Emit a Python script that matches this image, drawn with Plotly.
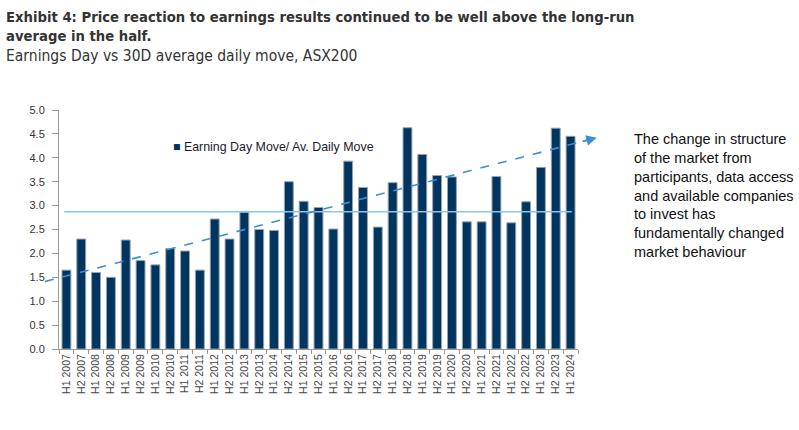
import plotly.graph_objects as go

categories = [f"{h} {y}" for y in range(2007, 2024) for h in ("H1", "H2")] + ["H1 2024"]
values = [1.65, 2.30, 1.60, 1.50, 2.28, 1.85, 1.76, 2.10, 2.05, 1.65,
          2.72, 2.30, 2.86, 2.50, 2.48, 3.50, 3.09, 2.96, 2.51, 3.93,
          3.38, 2.55, 3.48, 4.63, 4.07, 3.63, 3.60, 2.66, 2.66, 3.61,
          2.64, 3.08, 3.80, 4.62, 4.45]
long_run_avg = 2.87
trend_start, trend_end = 1.41, 4.42
series_name = "Earning Day Move/ Av. Daily Move"
yticks = [0.0, 0.5, 1.0, 1.5, 2.0, 2.5, 3.0, 3.5, 4.0, 4.5, 5.0]
bar_color = "#003560"

fig = go.Figure()
fig.add_trace(go.Bar(
    x=categories, y=values, name=series_name,
    marker=dict(color=bar_color, line=dict(color="#9aa3ad", width=1)),
    showlegend=False,
))

fig.update_layout(
    width=799, height=430,
    margin=dict(l=59, r=221, t=110, b=81),
    paper_bgcolor="white", plot_bgcolor="white",
    bargap=0.4,
    font=dict(family="Liberation Sans, Arial", color="#333333"),
    xaxis=dict(type="category", tickangle=-90, tickfont=dict(size=10.5, color="#444"),
               showline=True, linecolor="#999", linewidth=1,
               ticks="outside", tickson="boundaries", ticklen=4, tickcolor="#999",
               showgrid=False, range=[-0.5, len(categories) - 0.5]),
    yaxis=dict(range=[0, 5], tickvals=yticks, ticktext=[f"{v:.1f}" for v in yticks],
               tickfont=dict(size=11, color="#333"),
               showline=True, linecolor="#999", linewidth=1,
               ticks="outside", ticklen=6, tickcolor="#999", showgrid=False,
               ticklabelstandoff=5, zeroline=False),
)

# legend (drawn as text with a square swatch)
fig.add_annotation(xref="x domain", yref="y domain", x=0.216, y=0.845, xanchor="left", yanchor="middle",
                   text=f"<span style='color:{bar_color}'>■</span> {series_name}",
                   showarrow=False, font=dict(size=12.4, color="#1a1a2e"))

# long-run average line
fig.add_shape(type="line", xref="x domain", yref="y", x0=0.01, x1=0.988,
              y0=long_run_avg, y1=long_run_avg,
              line=dict(color="#8cc4ee", width=1.5))
# trend line (dashed) with arrowhead
x0p, x1p = -0.027, 1.036
slope = (trend_end - trend_start) / (x1p - x0p)
fig.add_shape(type="line", xref="x domain", yref="y", x0=x0p, x1=x1p - 0.012,
              y0=trend_start, y1=trend_end - slope * 0.012,
              line=dict(color="#3a8ed6", width=1.6, dash="dash"))
fig.add_annotation(xref="x domain", yref="y", x=x1p, y=trend_end,
                   axref="x domain", ayref="y", ax=x1p - 0.03, ay=trend_end - slope * 0.03,
                   showarrow=True, arrowhead=2, arrowsize=1.3, arrowwidth=1.6,
                   arrowcolor="#3a8ed6", text="")

# titles
fig.add_annotation(xref="paper", yref="paper", x=-0.104, y=1.433, xanchor="left", yanchor="top",
                   text="<b>Exhibit 4: Price reaction to earnings results continued to be well above the long-run<br>average in the half.</b>",
                   showarrow=False, align="left", borderpad=0,
                   font=dict(family="DejaVu Sans Condensed", size=14.7, color="#333333"))
fig.add_annotation(xref="paper", yref="paper", x=-0.104, y=1.268, xanchor="left", yanchor="top",
                   text="Earnings Day vs 30D average daily move, ASX200",
                   showarrow=False, align="left", borderpad=0,
                   font=dict(family="DejaVu Sans Condensed", size=15.5, color="#333333"))

# side comment
fig.add_annotation(xref="paper", yref="paper", x=1.106, y=0.916, xanchor="left", yanchor="top",
                   text="The change in structure<br>of the market from<br>participants, data access<br>and available companies<br>to invest has<br>fundamentally changed<br>market behaviour",
                   showarrow=False, align="left", borderpad=0,
                   font=dict(family="Liberation Sans, Arial", size=14.5, color="#111111"))

fig.write_html("out.html", config={"displayModeBar": False},
               post_script="document.body.style.margin='0';")
